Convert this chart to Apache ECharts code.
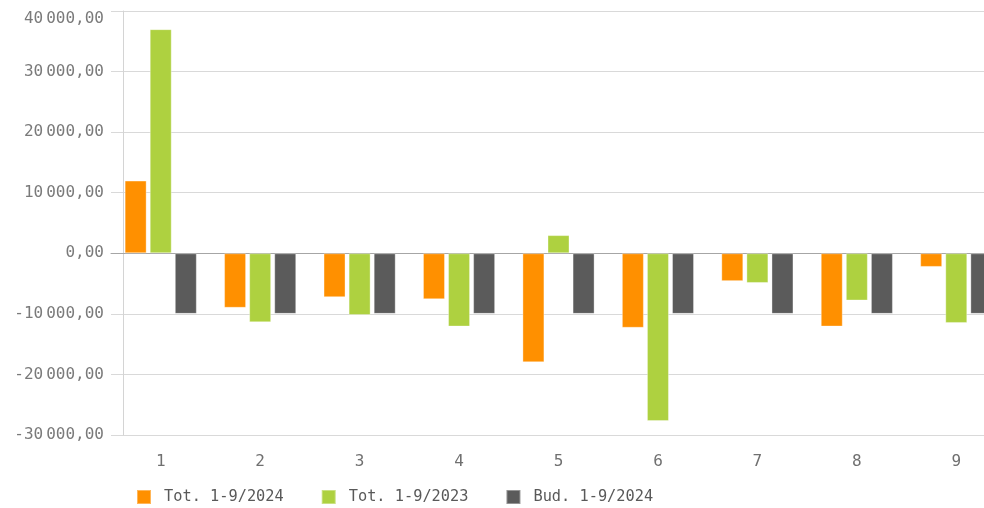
<!DOCTYPE html>
<html>
<head>
<meta charset="utf-8">
<script src="https://cdn.jsdelivr.net/npm/echarts@6/dist/echarts.min.js"></script>
<style>
  html, body { margin: 0; padding: 0; background: #fff; }
  #chart { width: 984px; height: 508px; }
</style>
</head>
<body>
<div id="chart"></div>
<script>
// categories and series
const categories = ["1", "2", "3", "4", "5", "6", "7", "8", "9"];
const tot2024 = [12000, -9000, -7250, -7600, -18000, -12300, -4600, -12100, -2250];
const tot2023 = [37000, -11400, -10200, -12100, 3000, -27700, -4900, -7800, -11500];
const bud2024 = [-10000, -10000, -10000, -10000, -10000, -10000, -10000, -10000, -10000];
const seriesNames = ["Tot. 1-9/2024", "Tot. 1-9/2023", "Bud. 1-9/2024"];

const font = "DejaVu Sans Mono";

// 40000 -> "40{s| }000,00"
function fmt(v) {
  const neg = v < 0;
  const s = String(Math.abs(Math.round(v)));
  let out = "";
  for (let i = 0; i < s.length; i++) {
    if (i > 0 && (s.length - i) % 3 === 0) out += "{s| }";
    out += s[i];
  }
  return (neg ? "-" : "") + out + ",00";
}

const barStyle = { borderColor: "rgba(255,255,255,0.35)", borderWidth: 1 };

const chart = echarts.init(document.getElementById("chart"));
chart.setOption({
  animation: false,
  color: ["#ff9000", "#aed140", "#5b5b5b"],
  // plot runs past the right edge, the last group is cut like in the original
  grid: { left: 111, width: 895, top: 11, height: 424, outerBoundsMode: "none" },
  legend: {
    bottom: -2,
    left: 131,
    icon: "rect",
    itemWidth: 14,
    itemHeight: 14,
    itemGap: 37,
    textStyle: { color: "#595959", fontSize: 15.3, fontFamily: font, padding: [0, 0, 0, 8] },
    data: seriesNames,
  },
  xAxis: [
    {
      type: "category",
      data: categories,
      axisLine: { show: false },
      axisTick: { show: false },
      axisLabel: { color: "#707070", fontSize: 16, fontFamily: font, margin: 19 },
    },
    {
      type: "category",
      data: categories,
      axisLine: { show: true, onZero: true, lineStyle: { color: "#a6a6a6", width: 1 } },
      axisTick: { show: false },
      axisLabel: { show: false },
    },
  ],
  yAxis: [
    {
      type: "value",
      min: -30000,
      max: 40000,
      interval: 10000,
      axisLine: { show: false },
      axisTick: { show: false },
      splitLine: { lineStyle: { color: "#d9d9d9", width: 1 } },
      axisLabel: {
        color: "#7a7a7a",
        fontSize: 16,
        fontFamily: font,
        margin: 7,
        verticalAlignMaxLabel: "top",
        formatter: fmt,
        rich: { s: { fontSize: 5, fontFamily: font } },
      },
    },
    {
      type: "value",
      min: -30000,
      max: 40000,
      interval: 10000,
      position: "left",
      offset: -12,
      axisLine: { show: true, lineStyle: { color: "#d4d4d4", width: 1 } },
      axisTick: { show: false },
      axisLabel: { show: false },
      splitLine: { show: false },
    },
  ],
  series: [
    { name: seriesNames[0], type: "bar", data: tot2024, barWidth: 22, barGap: "14%", itemStyle: barStyle },
    { name: seriesNames[1], type: "bar", data: tot2023, barWidth: 22, barGap: "14%", itemStyle: barStyle },
    { name: seriesNames[2], type: "bar", data: bud2024, barWidth: 22, barGap: "14%", itemStyle: barStyle },
  ],
});
</script>
</body>
</html>
